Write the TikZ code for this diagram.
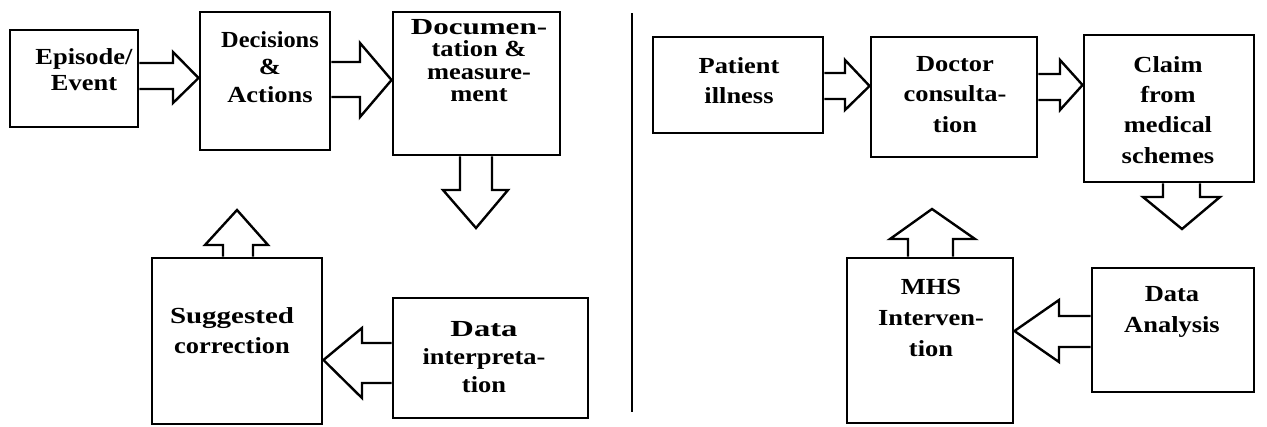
\documentclass[tikz,border=0pt]{standalone}
\usepackage{fontspec}
\setmainfont{Liberation Serif}[FakeStretch=1.15]
% wider or narrower cuts of the same face for individual labels
\newfontfamily\fsnarrow{Liberation Serif}[FakeStretch=1.06]
\newfontfamily\fswide{Liberation Serif}[FakeStretch=1.26]
\newfontfamily\fswider{Liberation Serif}[FakeStretch=1.35]
\newfontfamily\fswidest{Liberation Serif}[FakeStretch=1.42]

% Block arrows drawn as open outlines from one box edge to another.
% right/left: #1 from, #2 to, #3/#4 shaft top/bottom y, #5 head base x,
%             #6/#7 head top/bottom y, #8 tip y
\newcommand\rightblock[8]{%
  \draw[blk] (#1.east |- 0,#3) -- (#5,#3) -- (#5,#6) -- (#2.west |- 0,#8)
    -- (#5,#7) -- (#5,#4) -- (#1.east |- 0,#4);}
\newcommand\leftblock[8]{%
  \draw[blk] (#1.west |- 0,#3) -- (#5,#3) -- (#5,#6) -- (#2.east |- 0,#8)
    -- (#5,#7) -- (#5,#4) -- (#1.west |- 0,#4);}
% down/up: #1 from, #2/#3 shaft left/right x, #4 head base y,
%          #5/#6 head left/right x, #7 tip coordinate
\newcommand\downblock[7]{%
  \draw[blk] (#2,0 |- #1.south) -- (#2,#4) -- (#5,#4) -- (#7)
    -- (#6,#4) -- (#3,#4) -- (#3,0 |- #1.south);}
\newcommand\upblock[7]{%
  \draw[blk] (#2,0 |- #1.north) -- (#2,#4) -- (#5,#4) -- (#7)
    -- (#6,#4) -- (#3,#4) -- (#3,0 |- #1.north);}

\begin{document}
\begin{tikzpicture}[x=1pt,y=-1pt,
  box/.style={draw, line width=2.9pt, inner sep=0pt},
  txt/.style={font=\bfseries\fontsize{23}{#1}\selectfont, align=center,
              inner sep=0pt, anchor=north},
  blk/.style={draw, line width=2.4pt, line join=miter}]
\useasboundingbox (0,0) rectangle (1267,426);

% ---------- left cycle ----------
\node[box, minimum width=128pt, minimum height=97pt]  (ep)  at (74,78.5)   {};
\node[box, minimum width=130pt, minimum height=138pt] (de)  at (265,81)    {};
\node[box, minimum width=167pt, minimum height=143pt] (doc) at (476.5,83.5) {};
\node[box, minimum width=170pt, minimum height=166pt] (sc)  at (237,341)   {};
\node[box, minimum width=195pt, minimum height=120pt] (di)  at (490.5,358) {};

\node[txt=26]   (ep-t)  at (84,48)   {Episode/\\Event};
\node[txt=27.5] (de-t)  at (270,31)  {\fsnarrow Decisions\\\&\\Actions};
\node[txt=22.5] (doc-t) at (479,19)  {\fswider Documen-\\tation \&\\measure-\\ment};
\node[txt=30]   (sc-t)  at (232,307) {\fswide Suggested\\correction};
\node[txt=28]   (di-t)  at (484,321) {\fswidest Data\\interpreta-\\tion};

\coordinate (doc-tip) at (476,228);
\coordinate (sc-tip)  at (237,210);

\rightblock{ep}{de}{63}{89}{173}{52}{103}{78}
\rightblock{de}{doc}{62}{97}{360}{43}{117}{80}
\downblock{doc}{460}{492}{190}{443}{508}{doc-tip}
\leftblock{di}{sc}{343}{383}{362}{328}{398}{360}
\upblock{sc}{223}{253}{245}{205}{268}{sc-tip}

% ---------- divider ----------
\coordinate (div-top) at (632,13);
\coordinate (div-bot) at (632,412);
\draw[line width=2.9pt] (div-top) -- (div-bot);

% ---------- right cycle ----------
\node[box, minimum width=170pt, minimum height=96pt]  (pi)  at (738,85)     {};
\node[box, minimum width=166pt, minimum height=120pt] (dc)  at (954,97)     {};
\node[box, minimum width=170pt, minimum height=147pt] (cl)  at (1169,108.5) {};
\node[box, minimum width=166pt, minimum height=165pt] (mhs) at (930,340.5)  {};
\node[box, minimum width=162pt, minimum height=124pt] (da)  at (1173,330)   {};

\node[txt=30]   (pi-t)  at (739,57)   {Patient\\illness};
\node[txt=30.5] (dc-t)  at (955,56)   {Doctor\\consulta-\\tion};
\node[txt=30.3] (cl-t)  at (1168,56)  {Claim\\from\\medical\\schemes};
\node[txt=31]   (mhs-t) at (931,279)  {MHS\\Interven-\\tion};
\node[txt=31]   (da-t)  at (1172,286) {Data\\Analysis};

\coordinate (cl-tip)  at (1182,229);
\coordinate (mhs-tip) at (932,209);

\rightblock{pi}{dc}{73}{99}{845}{60}{110}{86}
\rightblock{dc}{cl}{74}{100}{1060}{60}{110}{85}
\downblock{cl}{1163}{1200}{197}{1143}{1220}{cl-tip}
\leftblock{da}{mhs}{316}{347}{1059}{300}{362}{331}
\upblock{mhs}{908}{953}{239}{890}{975}{mhs-tip}
\end{tikzpicture}
\end{document}
